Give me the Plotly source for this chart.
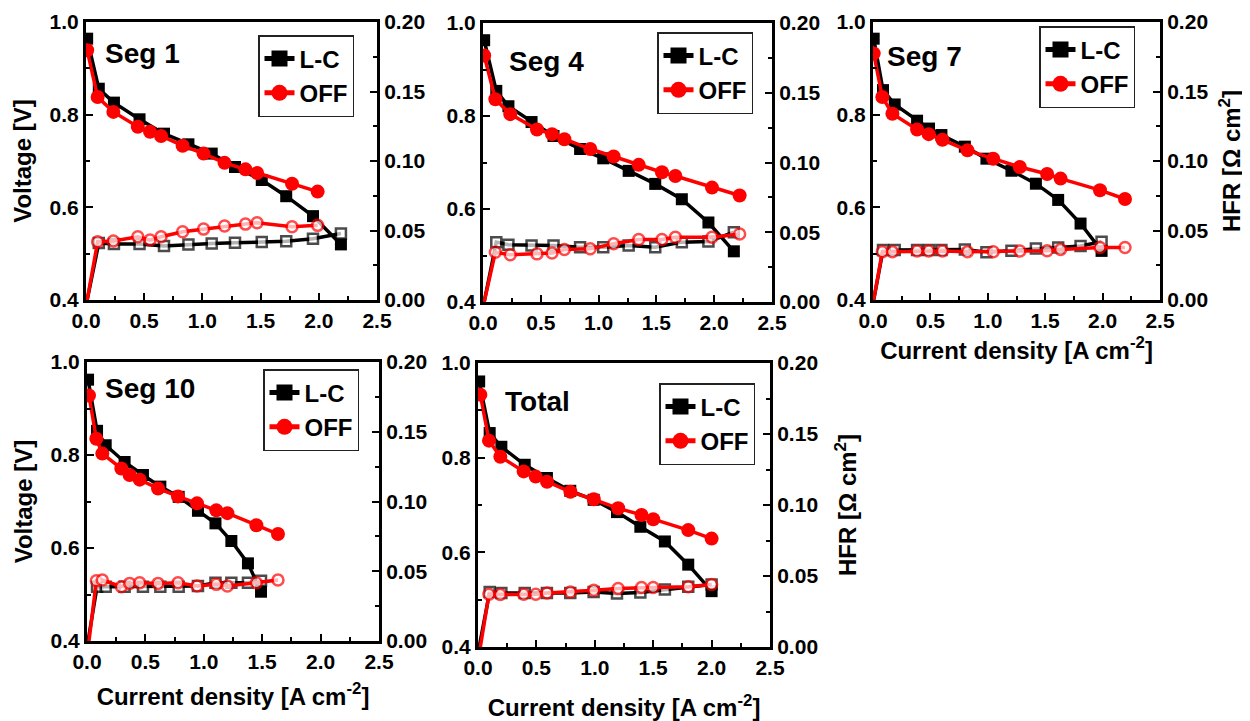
import plotly.graph_objects as go

# ---------------- data ----------------
panel_names = ["Seg 1", "Seg 4", "Seg 7", "Seg 10", "Total"]

# Seg 1
seg1_lc_j = [0.01, 0.11, 0.24, 0.46, 0.67, 0.88, 1.08, 1.28, 1.51, 1.72, 1.95, 2.19]
seg1_lc_v = [0.964, 0.856, 0.826, 0.790, 0.759, 0.736, 0.716, 0.687, 0.659, 0.624, 0.581, 0.520]
seg1_lc_hfr = [0.0, 0.041, 0.0402, 0.0402, 0.0388, 0.0400, 0.0407, 0.0412, 0.0417, 0.0422, 0.0441, 0.0479]
seg1_off_j = [0.01, 0.10, 0.235, 0.445, 0.55, 0.645, 0.83, 1.01, 1.19, 1.37, 1.47, 1.77, 1.99]
seg1_off_v = [0.939, 0.838, 0.806, 0.774, 0.763, 0.754, 0.733, 0.716, 0.696, 0.682, 0.674, 0.651, 0.634]
seg1_off_hfr = [0.0, 0.0419, 0.0424, 0.0455, 0.0431, 0.0455, 0.0491, 0.0510, 0.0532, 0.0546, 0.0556, 0.0527, 0.0537]

# Seg 4
seg4_lc_j = [0.01, 0.115, 0.22, 0.42, 0.61, 0.84, 1.04, 1.26, 1.49, 1.72, 1.95, 2.17]
seg4_lc_v = [0.963, 0.854, 0.821, 0.787, 0.757, 0.729, 0.709, 0.682, 0.654, 0.621, 0.571, 0.509]
seg4_lc_hfr = [0.0, 0.0429, 0.041, 0.0405, 0.0405, 0.0393, 0.0393, 0.0405, 0.0393, 0.0429, 0.0433, 0.050]
seg4_off_j = [0.01, 0.107, 0.236, 0.467, 0.597, 0.704, 0.928, 1.13, 1.347, 1.548, 1.664, 1.981, 2.22]
seg4_off_v = [0.930, 0.836, 0.804, 0.771, 0.761, 0.750, 0.729, 0.713, 0.695, 0.679, 0.671, 0.646, 0.629]
seg4_off_hfr = [0.0, 0.0357, 0.0338, 0.0345, 0.0352, 0.0376, 0.0381, 0.0417, 0.0448, 0.0448, 0.0464, 0.0464, 0.0488]

# Seg 7
seg7_lc_j = [0.006, 0.087, 0.189, 0.384, 0.488, 0.596, 0.80, 0.988, 1.206, 1.419, 1.613, 1.808, 1.991]
seg7_lc_v = [0.964, 0.853, 0.822, 0.787, 0.770, 0.756, 0.731, 0.705, 0.679, 0.651, 0.616, 0.565, 0.506]
seg7_lc_hfr = [0.0, 0.0359, 0.0359, 0.0359, 0.0359, 0.0359, 0.0364, 0.0343, 0.0354, 0.0371, 0.0378, 0.0388, 0.0419]
seg7_off_j = [0.006, 0.081, 0.169, 0.384, 0.485, 0.605, 0.823, 1.047, 1.279, 1.517, 1.634, 1.977, 2.195]
seg7_off_v = [0.932, 0.838, 0.802, 0.768, 0.758, 0.746, 0.723, 0.705, 0.687, 0.672, 0.662, 0.637, 0.618]
seg7_off_hfr = [0.0, 0.0347, 0.0347, 0.0352, 0.0352, 0.0352, 0.0347, 0.0347, 0.0352, 0.0354, 0.0364, 0.0378, 0.0378]

# Seg 10
seg10_lc_j = [0.009, 0.086, 0.16, 0.322, 0.479, 0.628, 0.785, 0.95, 1.10, 1.236, 1.378, 1.49]
seg10_lc_v = [0.962, 0.852, 0.821, 0.785, 0.757, 0.732, 0.710, 0.680, 0.653, 0.615, 0.567, 0.506]
seg10_lc_hfr = [0.0, 0.0389, 0.0389, 0.0389, 0.0389, 0.0389, 0.0389, 0.0394, 0.0418, 0.0418, 0.0418, 0.0432]
seg10_off_j = [0.017, 0.08, 0.131, 0.294, 0.365, 0.451, 0.608, 0.779, 0.942, 1.107, 1.202, 1.45, 1.635]
seg10_off_v = [0.928, 0.835, 0.803, 0.771, 0.757, 0.747, 0.728, 0.711, 0.696, 0.681, 0.675, 0.649, 0.630]
seg10_off_hfr = [0.0, 0.0432, 0.0437, 0.0389, 0.0413, 0.0418, 0.0413, 0.0418, 0.0394, 0.0406, 0.0394, 0.0418, 0.0437]

# Total
total_lc_j = [0.01, 0.10, 0.20, 0.40, 0.59, 0.79, 0.99, 1.19, 1.39, 1.60, 1.80, 2.00]
total_lc_v = [0.961, 0.852, 0.823, 0.785, 0.757, 0.730, 0.711, 0.685, 0.654, 0.623, 0.574, 0.518]
total_lc_hfr = [0.0, 0.0388, 0.0381, 0.0381, 0.0381, 0.0381, 0.0388, 0.0376, 0.0384, 0.0405, 0.0424, 0.0440]
total_off_j = [0.02, 0.094, 0.191, 0.391, 0.494, 0.591, 0.791, 0.991, 1.20, 1.40, 1.50, 1.80, 2.00]
total_off_v = [0.933, 0.836, 0.802, 0.771, 0.760, 0.749, 0.728, 0.712, 0.693, 0.679, 0.670, 0.647, 0.629]
total_off_hfr = [0.0, 0.0372, 0.0369, 0.0372, 0.0372, 0.0381, 0.0388, 0.0400, 0.0412, 0.0419, 0.0419, 0.0424, 0.0440]

x_ticks = [0.0, 0.5, 1.0, 1.5, 2.0, 2.5]
v_ticks = [0.4, 0.6, 0.8, 1.0]
hfr_ticks = [0.00, 0.05, 0.10, 0.15, 0.20]

panels = [
    (seg1_lc_j, seg1_lc_v, seg1_lc_hfr, seg1_off_j, seg1_off_v, seg1_off_hfr),
    (seg4_lc_j, seg4_lc_v, seg4_lc_hfr, seg4_off_j, seg4_off_v, seg4_off_hfr),
    (seg7_lc_j, seg7_lc_v, seg7_lc_hfr, seg7_off_j, seg7_off_v, seg7_off_hfr),
    (seg10_lc_j, seg10_lc_v, seg10_lc_hfr, seg10_off_j, seg10_off_v, seg10_off_hfr),
    (total_lc_j, total_lc_v, total_lc_hfr, total_off_j, total_off_v, total_off_hfr),
]

# ---------------- layout geometry (page pixels) ----------------
PAGE_W, PAGE_H = 1250, 721
BODY = 8                      # default page margin around the plot div
W, H = PAGE_W - BODY, PAGE_H - BODY
boxes = [  # left, top, right, bottom
    (86, 22, 377, 300),
    (483, 23, 772, 302),
    (873, 22, 1160, 300),
    (87, 362, 379, 641),
    (478, 363, 770, 647),
]
legend_pos = [(258, 35), (657, 32), (1039, 26), (263, 369), (659, 383)]
label_pos = [(103, 54), (507, 61), (885, 56), (103, 388), (503, 401)]
show_vtitle = [True, False, False, True, False]
show_htitle = [False, False, True, False, True]
show_xtitle = [False, False, True, True, True]
x_standoff = [14, 14, 11, 16, 22]
h_standoff = [22, 22, 16, 22, 22]

FONT = "Liberation Sans"
BLACK = "#000000"
RED = "#FF0000"
TITLE_FONT = dict(family=FONT, size=24, color="black", weight="bold")

fig = go.Figure()
layout = dict(
    width=W, height=H,
    margin=dict(l=0, r=0, t=0, b=0, pad=0, autoexpand=False),
    paper_bgcolor="white", plot_bgcolor="white",
    font=dict(family=FONT, size=20, color="black", weight="bold"),
    showlegend=True,
    annotations=[],
)


def px_x(p):
    return (p - BODY) / W


def px_y(p):
    return 1 - (p - BODY) / H


for i, (lc_j, lc_v, lc_h, off_j, off_v, off_h) in enumerate(panels):
    n = i + 1
    xa = "x" if n == 1 else f"x{n}"
    ya = f"y{2 * n - 1}" if n > 1 else "y"
    yb = f"y{2 * n}"
    leg = "legend" if n == 1 else f"legend{n}"
    L, T, R, B = boxes[i]

    sq_sizes = [0] + [10] * (len(lc_j) - 1)
    ci_sizes = [0] + [11] * (len(off_j) - 1)

    fig.add_trace(go.Scatter(
        x=lc_j, y=lc_h, xaxis=xa, yaxis=yb, mode="lines+markers",
        line=dict(color=BLACK, width=3.5),
        marker=dict(symbol="square", size=sq_sizes, color="white",
                    line=dict(color=BLACK, width=2.5)),
        showlegend=False, legend=leg))
    fig.add_trace(go.Scatter(
        x=lc_j, y=lc_v, xaxis=xa, yaxis=ya, mode="lines+markers", name="L-C",
        line=dict(color=BLACK, width=3.5),
        marker=dict(symbol="square", size=12, color=BLACK),
        showlegend=False, legend=leg))
    fig.add_trace(go.Scatter(
        x=off_j, y=off_v, xaxis=xa, yaxis=ya, mode="lines+markers", name="OFF",
        line=dict(color=RED, width=3.5),
        marker=dict(symbol="circle", size=14, color=RED),
        showlegend=False, legend=leg))
    fig.add_trace(go.Scatter(
        x=off_j, y=off_h, xaxis=xa, yaxis=yb, mode="lines+markers",
        line=dict(color=RED, width=3.5),
        marker=dict(symbol="circle", size=ci_sizes, color="white",
                    line=dict(color=RED, width=2.5)),
        showlegend=False, legend=leg))
    # legend entries (bigger symbols, as in the reference legend)
    fig.add_trace(go.Scatter(
        x=[None], y=[None], xaxis=xa, yaxis=ya, mode="lines+markers", name="L-C",
        line=dict(color=BLACK, width=5),
        marker=dict(symbol="square", size=16, color=BLACK),
        showlegend=True, legend=leg))
    fig.add_trace(go.Scatter(
        x=[None], y=[None], xaxis=xa, yaxis=ya, mode="lines+markers", name="OFF",
        line=dict(color=RED, width=5),
        marker=dict(symbol="circle", size=16, color=RED),
        showlegend=True, legend=leg))

    common = dict(showline=True, linecolor="black", linewidth=3,
                  ticks="inside", ticklen=7, tickwidth=2, tickcolor="black",
                  showgrid=False, zeroline=False, automargin=False,
                  tickfont=dict(family=FONT, size=21, color="black", weight="bold"))

    xkey = "xaxis" if n == 1 else f"xaxis{n}"
    layout[xkey] = dict(
        domain=[px_x(L), px_x(R)], anchor=ya, range=[0, 2.5],
        tickvals=x_ticks, ticktext=[f"{t:.1f}" for t in x_ticks],
        mirror=True,
        minor=dict(ticks="inside", ticklen=4, tickwidth=2, tickcolor="black", dtick=0.25),
        **common)
    if show_xtitle[i]:
        layout[xkey]["title"] = dict(text="Current density [A cm<sup>-2</sup>]",
                                     font=TITLE_FONT, standoff=x_standoff[i])

    yakey = "yaxis" if n == 1 else f"yaxis{2 * n - 1}"
    layout[yakey] = dict(
        domain=[px_y(B), px_y(T)], anchor=xa, range=[0.4, 1.0],
        tickvals=v_ticks, ticktext=[f"{t:.1f}" for t in v_ticks],
        minor=dict(ticks="inside", ticklen=4, tickwidth=2, tickcolor="black", dtick=0.1),
        **common)
    if show_vtitle[i]:
        layout[yakey]["title"] = dict(text="Voltage [V]", font=TITLE_FONT, standoff=12)

    ybkey = f"yaxis{2 * n}"
    layout[ybkey] = dict(
        domain=[px_y(B), px_y(T)], anchor=xa, overlaying=ya,
        side="right", range=[0, 0.2],
        tickvals=hfr_ticks, ticktext=[f"{t:.2f}" for t in hfr_ticks],
        minor=dict(ticks="inside", ticklen=4, tickwidth=2, tickcolor="black", dtick=0.025),
        **common)
    if show_htitle[i]:
        layout[ybkey]["title"] = dict(text="HFR [Ω cm<sup>2</sup>]", font=TITLE_FONT,
                                      standoff=h_standoff[i])

    lx, ly = legend_pos[i]
    layout[leg] = dict(
        x=px_x(lx), y=px_y(ly), xanchor="left", yanchor="top",
        bgcolor="white", bordercolor="#222222", borderwidth=1.5,
        font=dict(family=FONT, size=24, color="black", weight="bold"),
        tracegroupgap=0)

    ax, ay = label_pos[i]
    layout["annotations"].append(dict(
        x=px_x(ax), y=px_y(ay), xref="paper", yref="paper",
        xanchor="left", yanchor="middle", showarrow=False,
        text=panel_names[i],
        font=dict(family=FONT, size=28, color="black", weight="bold")))

fig.update_layout(**layout)
fig.write_html("out.html")
